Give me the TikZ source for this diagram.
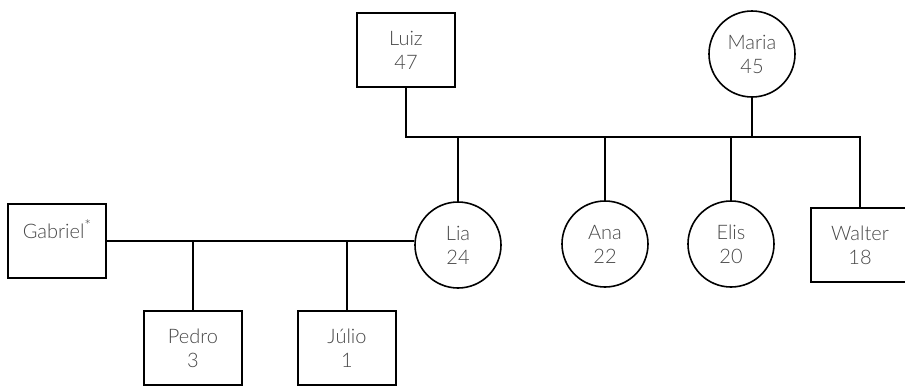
\documentclass[tikz,border=0pt]{standalone}
\usepackage{fontspec}
\setmainfont{Lato}[UprightFont={* Light}]
\begin{document}
\begin{tikzpicture}[x=1pt,y=-1pt,
  line width=1.6pt,
  txt/.style={text=black!72,font=\fontsize{20}{24}\selectfont,align=center},
  male/.style={txt,draw=black,rectangle,minimum width=98,minimum height=74,inner sep=0},
  female/.style={txt,draw=black,circle,minimum size=86,inner sep=0}]
\useasboundingbox (0,0) rectangle (905,386);
\clip (0,0) rectangle (905,386);
\node[male] (Luiz) at (406,50) {Luiz\\47};
\node[female] (Maria) at (752,54) {Maria\\45};
\node[female] (Lia) at (458,245) {Lia\\24};
\node[female] (Ana) at (605,244) {Ana\\22};
\node[female] (Elis) at (731,244) {Elis\\20};
\node[male] (Walter) at (860,245) {Walter\\18};
\node[male] (Gabriel) at (57,241) {Gabriel\raisebox{7pt}{\fontsize{16}{16}\selectfont *}\\\phantom{0}};
\node[male] (Pedro) at (193,348) {Pedro\\3};
\node[male] (Julio) at (347,348) {Júlio\\1};
\coordinate (barL) at (406,137);
\coordinate (barR) at (860,137);
\draw (Luiz.south) -- (barL) -- (barR) -- (Walter.north);
\draw (Maria.south) -- (Maria.south |- barL);
\draw (Lia.north) -- (Lia.north |- barL);
\draw (Ana.north) -- (Ana.north |- barL);
\draw (Elis.north) -- (Elis.north |- barL);
\draw (Gabriel.east) -- (Gabriel.east -| Lia.west);
\draw (Pedro.north) -- (Pedro.north |- Gabriel.east);
\draw (Julio.north) -- (Julio.north |- Gabriel.east);
\end{tikzpicture}
\end{document}
